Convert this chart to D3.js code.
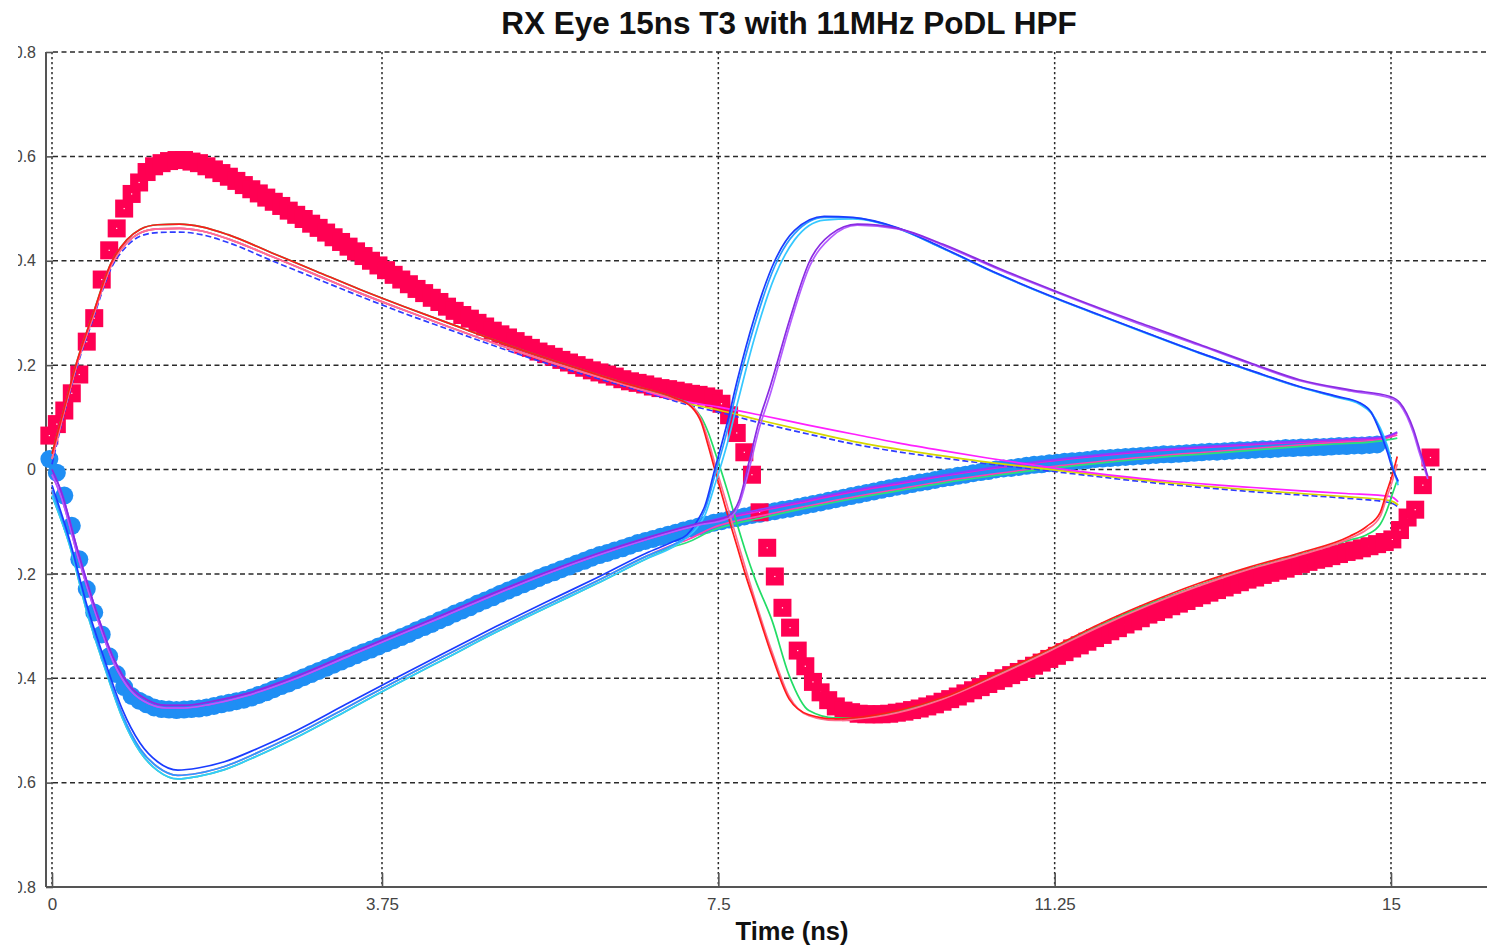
<!DOCTYPE html>
<html><head><meta charset="utf-8">
<script src="https://cdn.jsdelivr.net/npm/d3@7"></script>
<style>html,body{margin:0;padding:0;background:#fff;}svg{display:block;font-family:Arial,"Liberation Sans",sans-serif;}</style>
</head><body><svg id="chart" width="1489" height="945"></svg>
<script>
// ---------- DATA ----------
const titleText = "RX Eye 15ns T3 with 11MHz PoDL HPF";
const xLabelText = "Time (ns)";
const xTickVals = [0, 3.75, 7.5, 11.25, 15];
const xTickLabels = ["0", "3.75", "7.5", "11.25", "15"];
const yTickVals = [0.8, 0.6, 0.4, 0.2, 0, -0.2, -0.4, -0.6, -0.8];
const yTickLabels = ["0.8", "0.6", "0.4", "0.2", "0", "-0.2", "-0.4", "-0.6", "-0.8"];

// marker series sampled every markerStep ns
const markerStep = 0.085;
const redStart = -0.03;
const redV = [
0.065,0.087,0.113,0.146,0.182,0.245,0.29,0.364,0.42,0.462,
0.50,0.528,0.55,0.57,0.581,0.587,0.591,0.593,0.593,0.59,
0.587,0.581,0.575,0.568,0.561,0.553,0.545,0.537,0.529,0.521,
0.513,0.505,0.496,0.488,0.48,0.471,0.463,0.454,0.445,0.436,
0.427,0.418,0.409,0.40,0.391,0.382,0.373,0.364,0.355,0.346,
0.338,0.329,0.321,0.312,0.304,0.296,0.289,0.281,0.274,0.266,
0.259,0.253,0.246,0.239,0.233,0.226,0.221,0.216,0.21,0.205,
0.20,0.195,0.19,0.186,0.182,0.178,0.173,0.169,0.166,0.163,
0.159,0.156,0.154,0.151,0.148,0.145,0.143,0.14,0.136,0.126,
0.104,0.07,0.033,-0.01,-0.082,-0.15,-0.205,-0.265,-0.303,-0.347,
-0.377,-0.407,-0.427,-0.442,-0.454,-0.462,-0.465,-0.468,-0.469,-0.469,
-0.469,-0.468,-0.466,-0.464,-0.461,-0.458,-0.454,-0.45,-0.445,-0.44,
-0.435,-0.429,-0.423,-0.417,-0.411,-0.405,-0.4,-0.394,-0.388,-0.382,
-0.376,-0.37,-0.363,-0.357,-0.35,-0.343,-0.337,-0.33,-0.323,-0.317,
-0.31,-0.304,-0.297,-0.291,-0.285,-0.278,-0.273,-0.268,-0.262,-0.257,
-0.252,-0.246,-0.241,-0.236,-0.231,-0.226,-0.221,-0.216,-0.211,-0.207,
-0.202,-0.198,-0.194,-0.19,-0.185,-0.181,-0.177,-0.173,-0.17,-0.166,
-0.162,-0.158,-0.155,-0.151,-0.147,-0.143,-0.139,-0.134,-0.116,-0.092,
-0.077,-0.03,0.023];
const blueStart = -0.03;
const blueV = [
0.02,-0.006,-0.05,-0.108,-0.172,-0.229,-0.274,-0.316,-0.358,-0.392,
-0.417,-0.434,-0.443,-0.45,-0.456,-0.459,-0.46,-0.461,-0.46,-0.459,
-0.458,-0.456,-0.453,-0.45,-0.447,-0.444,-0.441,-0.437,-0.432,-0.427,
-0.421,-0.415,-0.41,-0.404,-0.398,-0.392,-0.386,-0.38,-0.374,-0.368,
-0.362,-0.356,-0.35,-0.345,-0.339,-0.333,-0.327,-0.321,-0.315,-0.308,
-0.302,-0.296,-0.289,-0.283,-0.276,-0.27,-0.264,-0.257,-0.251,-0.245,
-0.238,-0.232,-0.226,-0.22,-0.214,-0.208,-0.202,-0.197,-0.191,-0.186,
-0.18,-0.175,-0.169,-0.164,-0.16,-0.155,-0.151,-0.146,-0.141,-0.137,
-0.133,-0.129,-0.125,-0.121,-0.117,-0.113,-0.109,-0.106,-0.102,-0.099,
-0.096,-0.093,-0.09,-0.087,-0.085,-0.082,-0.08,-0.077,-0.075,-0.072,
-0.069,-0.066,-0.063,-0.06,-0.057,-0.054,-0.051,-0.048,-0.045,-0.042,
-0.039,-0.036,-0.033,-0.031,-0.028,-0.025,-0.023,-0.02,-0.017,-0.015,
-0.012,-0.01,-0.007,-0.005,-0.003,0.0,0.002,0.003,0.005,0.007,
0.009,0.01,0.012,0.013,0.015,0.016,0.017,0.018,0.02,0.021,
0.022,0.023,0.024,0.025,0.026,0.027,0.028,0.029,0.029,0.03,
0.031,0.032,0.033,0.034,0.034,0.035,0.036,0.037,0.037,0.038,
0.039,0.039,0.04,0.041,0.041,0.042,0.042,0.043,0.043,0.044,
0.045,0.045,0.046,0.046,0.047,0.048];

// thin eye traces: head segments (from t=0) and tail segments (after 7 ns)
const upT   = [0,0.12,0.28,0.46,0.67,0.85,1.0,1.2,1.45,1.7,2.0,2.5,3.0,3.5,4.0,4.5,5.0,5.5,6.0,6.5,7.0];
const upHi  = [0.03,0.105,0.205,0.295,0.395,0.44,0.46,0.469,0.47,0.465,0.45,0.415,0.38,0.345,0.312,0.28,0.248,0.218,0.19,0.163,0.138];
const upMid = [0.02,0.1,0.2,0.29,0.39,0.434,0.453,0.461,0.462,0.457,0.442,0.408,0.373,0.338,0.305,0.273,0.242,0.213,0.186,0.16,0.135];
const upLo  = [0.01,0.095,0.195,0.285,0.385,0.428,0.447,0.454,0.455,0.45,0.435,0.4,0.366,0.332,0.299,0.268,0.237,0.208,0.182,0.157,0.132];

const dropT     = [7.2,7.31,7.39,7.46,7.6,7.71,7.8,7.91,8.1,8.29,8.51,8.8,9.0,9.5,10.0,10.62,11.18,11.74,12.3,12.86,13.42,13.98,14.54,14.73,14.88,14.95,15.01,15.07];
const dropRed   = [0.12,0.09,0.044,0.0,-0.085,-0.148,-0.2,-0.258,-0.358,-0.44,-0.47,-0.478,-0.476,-0.462,-0.437,-0.39,-0.345,-0.297,-0.255,-0.218,-0.187,-0.16,-0.128,-0.109,-0.082,-0.044,-0.013,0.025];
const dropPink  = [0.122,0.095,0.055,0.012,-0.07,-0.135,-0.188,-0.25,-0.35,-0.435,-0.472,-0.481,-0.479,-0.466,-0.44,-0.394,-0.349,-0.302,-0.26,-0.223,-0.191,-0.164,-0.132,-0.115,-0.09,-0.055,-0.025,0.01];
const dropGreen = [0.122,0.1,0.07,0.035,-0.04,-0.105,-0.155,-0.21,-0.29,-0.395,-0.462,-0.476,-0.476,-0.463,-0.438,-0.392,-0.347,-0.3,-0.258,-0.222,-0.19,-0.163,-0.135,-0.125,-0.105,-0.08,-0.05,-0.02];

const contT   = [7.2,7.5,8.0,8.5,9.0,9.5,10.0,10.5,11.0,11.5,12.0,12.5,13.0,13.5,14.0,14.5,15.0,15.08];
const contMag = [0.128,0.12,0.103,0.085,0.068,0.051,0.036,0.022,0.009,-0.003,-0.013,-0.022,-0.029,-0.035,-0.041,-0.046,-0.052,-0.062];
const contYel = [0.125,0.114,0.093,0.073,0.054,0.039,0.026,0.014,0.004,-0.006,-0.016,-0.025,-0.033,-0.04,-0.046,-0.052,-0.06,-0.068];
const contBlu = [0.122,0.11,0.088,0.068,0.049,0.034,0.022,0.011,0.001,-0.009,-0.019,-0.028,-0.036,-0.043,-0.049,-0.055,-0.064,-0.072];

const loT = [0,0.2,0.4,0.6,0.8,1.0,1.2,1.43,1.66,1.96,2.33,2.78,3.34,3.9,4.46,5.02,5.58,6.14,6.7,7.0];
const loA = [-0.03,-0.135,-0.262,-0.366,-0.46,-0.524,-0.56,-0.576,-0.572,-0.56,-0.535,-0.5,-0.45,-0.4,-0.35,-0.301,-0.254,-0.208,-0.16,-0.138];
const loB = [-0.04,-0.14,-0.27,-0.375,-0.47,-0.535,-0.57,-0.586,-0.582,-0.569,-0.543,-0.507,-0.457,-0.406,-0.356,-0.307,-0.26,-0.214,-0.166,-0.144];
const loC = [-0.05,-0.145,-0.275,-0.38,-0.476,-0.541,-0.577,-0.593,-0.588,-0.575,-0.549,-0.513,-0.463,-0.412,-0.362,-0.312,-0.265,-0.219,-0.171,-0.148];

const riseT     = [7.15,7.26,7.35,7.46,7.6,7.71,7.9,8.13,8.35,8.68,9.0,9.5,10.0,10.62,11.2,11.74,12.3,12.86,13.42,13.98,14.4,14.65,14.78,14.88,14.96,15.02,15.08];
const riseBlue  = [-0.125,-0.1,-0.07,0.0,0.09,0.17,0.29,0.4,0.458,0.485,0.483,0.463,0.425,0.375,0.333,0.297,0.26,0.224,0.191,0.159,0.14,0.128,0.109,0.071,0.033,0.0,-0.022];
const riseBlue2 = [-0.128,-0.105,-0.078,-0.012,0.075,0.155,0.275,0.39,0.452,0.483,0.482,0.462,0.424,0.374,0.332,0.296,0.26,0.224,0.19,0.158,0.139,0.127,0.11,0.075,0.04,0.005,-0.025];
const riseCyan  = [-0.13,-0.112,-0.088,-0.03,0.05,0.125,0.25,0.37,0.44,0.478,0.48,0.462,0.424,0.374,0.332,0.296,0.259,0.223,0.19,0.158,0.138,0.125,0.108,0.08,0.045,0.005,-0.03];

const lcT     = [7.15,7.43,8.0,8.5,9.0,9.5,10.0,10.6,11.2,11.8,12.4,13.0,13.6,14.2,14.9,15.07];
const lcPink  = [-0.135,-0.112,-0.088,-0.07,-0.053,-0.038,-0.023,-0.008,0.005,0.016,0.026,0.034,0.042,0.05,0.058,0.066];
const lcGreen = [-0.14,-0.117,-0.092,-0.073,-0.056,-0.041,-0.026,-0.011,0.002,0.013,0.023,0.031,0.039,0.047,0.055,0.06];

const bT   = [0,0.1,0.3,0.5,0.7,0.9,1.1,1.3,1.5,1.8,2.2,2.78,3.34,3.9,4.46,5.02,5.58,6.14,6.7,7.26];
const bPur = [0.0,-0.04,-0.16,-0.27,-0.362,-0.418,-0.443,-0.452,-0.452,-0.445,-0.43,-0.396,-0.356,-0.316,-0.276,-0.235,-0.197,-0.162,-0.131,-0.104];
const bMag = [-0.01,-0.05,-0.17,-0.278,-0.37,-0.425,-0.449,-0.457,-0.457,-0.45,-0.434,-0.4,-0.36,-0.32,-0.28,-0.239,-0.2,-0.165,-0.134,-0.107];

const bcT   = [7.26,7.6,8.3,9.0,9.5,10.0,10.6,11.2,11.8,12.4,13.0,13.6,14.2,14.9,15.07];
const bcPur = [-0.104,-0.09,-0.065,-0.04,-0.025,-0.011,0.005,0.018,0.029,0.038,0.045,0.051,0.056,0.062,0.072];
const bcMag = [-0.107,-0.093,-0.068,-0.043,-0.028,-0.013,0.003,0.016,0.027,0.036,0.043,0.049,0.054,0.06,0.07];

const brT   = [7.26,7.6,7.73,7.85,7.95,8.08,8.3,8.52,8.75,9.05,9.5,10.0,10.62,11.2,11.74,12.3,12.86,13.42,13.98,14.56,14.99,15.1,15.25,15.32,15.38,15.41];
const brPur = [-0.104,-0.09,-0.06,0.02,0.09,0.16,0.29,0.4,0.45,0.47,0.462,0.432,0.386,0.346,0.31,0.275,0.24,0.205,0.172,0.152,0.14,0.128,0.077,0.038,0.004,-0.013];
const brVio = [-0.107,-0.095,-0.068,0.005,0.075,0.145,0.278,0.39,0.444,0.468,0.461,0.43,0.384,0.344,0.308,0.272,0.238,0.203,0.17,0.15,0.137,0.124,0.07,0.03,-0.002,-0.018];

// ---------- CHART ----------
const svg = d3.select("#chart");
const x = d3.scaleLinear().domain([0, 3.75, 15]).range([52, 382, 1391]);
const y = d3.scaleLinear().domain([-0.8, 0.8]).range([887, 52]);
const axisX0 = 46, plotRight = 1487;

// grid
svg.append("g").selectAll("line").data(yTickVals.filter(v => v > -0.8)).join("line")
  .attr("x1", x(0) + 1).attr("x2", plotRight).attr("y1", d => y(d)).attr("y2", d => y(d))
  .attr("stroke", "#2a2a2a").attr("stroke-width", 1.5).attr("stroke-dasharray", "5,3.5");
svg.append("g").selectAll("line").data(xTickVals).join("line")
  .attr("x1", d => x(d)).attr("x2", d => x(d)).attr("y1", y(0.8)).attr("y2", y(-0.8))
  .attr("stroke", "#2a2a2a").attr("stroke-width", 1.5).attr("stroke-dasharray", "2.2,2.8");

// axes
const xAxis = d3.axisBottom(x).tickValues(xTickVals).tickFormat((d, i) => xTickLabels[i])
  .tickSizeInner(-14).tickSizeOuter(0).tickPadding(11);
const gx = svg.append("g").attr("transform", `translate(0,${y(-0.8)})`).call(xAxis);
gx.select(".domain").remove();
gx.selectAll(".tick line").attr("stroke", "#555").attr("stroke-width", 1.6);
gx.selectAll(".tick text").attr("font-size", 17).attr("fill", "#444").attr("font-family", "Arial, 'Liberation Sans', sans-serif");

const clip = svg.append("defs").append("clipPath").attr("id", "yclip");
clip.append("rect").attr("x", 18 - axisX0).attr("y", 0).attr("width", 60).attr("height", 945);
const yAxis = d3.axisLeft(y).tickValues(yTickVals).tickFormat((d, i) => yTickLabels[i])
  .tickSizeInner(-7).tickSizeOuter(0).tickPadding(10);
const gy = svg.append("g").attr("transform", `translate(${axisX0},0)`).attr("clip-path", "url(#yclip)").call(yAxis);
gy.select(".domain").remove();
gy.selectAll(".tick line").attr("stroke", "#555").attr("stroke-width", 1.6);
gy.selectAll(".tick text").attr("font-size", 16).attr("fill", "#444").attr("font-family", "Arial, 'Liberation Sans', sans-serif");

svg.append("line").attr("x1", axisX0).attr("x2", axisX0).attr("y1", y(0.8)).attr("y2", y(-0.8))
  .attr("stroke", "#555").attr("stroke-width", 2);
svg.append("line").attr("x1", axisX0).attr("x2", plotRight).attr("y1", y(-0.8)).attr("y2", y(-0.8))
  .attr("stroke", "#555").attr("stroke-width", 2);

// marker series
svg.append("g").selectAll("circle").data(blueV).join("circle")
  .attr("cx", (d, i) => x(blueStart + i * markerStep)).attr("cy", d => y(d)).attr("r", 9)
  .attr("fill", "#1f8ef4");
svg.append("g").selectAll("rect").data(redV).join("rect")
  .attr("x", (d, i) => x(redStart + i * markerStep) - 4.8).attr("y", d => y(d) - 4.8)
  .attr("width", 9.6).attr("height", 9.6)
  .attr("fill", "#fff").attr("stroke", "#ff0052").attr("stroke-width", 8.4);

// thin traces
function trace(ht, hv, tt, tv) {
  const pts = [];
  ht.forEach((t, i) => { if (t < tt[0]) pts.push([t, hv[i]]); });
  tt.forEach((t, i) => pts.push([t, tv[i]]));
  return pts;
}
const traces = [
  { pts: trace(loT, loB, lcT, lcPink), color: "#ff3fb4" },
  { pts: trace(loT, loC, lcT, lcGreen), color: "#2fe07a" },
  { pts: trace(bT, bMag, bcT, bcMag), color: "#e81fd8" },
  { pts: trace(bT, bPur, bcT, bcPur), color: "#8c3cff" },
  { pts: trace(upT, upLo, contT, contBlu), color: "#2f3cff", dash: "6,3" },
  { pts: trace(upT, upMid, contT, contYel), color: "#d6d600" },
  { pts: trace(upT, upMid, contT, contMag), color: "#ff20ff" },
  { pts: trace(upT, upHi, dropT, dropGreen), color: "#22dd66" },
  { pts: trace(upT, upMid, dropT, dropPink), color: "#ff6f8f" },
  { pts: trace(upT, upHi, dropT, dropRed), color: "#ff1a1a" },
  { pts: trace(loT, loC, riseT, riseCyan), color: "#35c8ff" },
  { pts: trace(loT, loB, riseT, riseBlue2), color: "#2a9cff" },
  { pts: trace(loT, loA, riseT, riseBlue), color: "#1a3cff" },
  { pts: trace(bT, bMag, brT, brVio), color: "#b45cff" },
  { pts: trace(bT, bPur, brT, brPur), color: "#8a2be2" }
];
const line = d3.line().x(d => x(d[0])).y(d => y(d[1])).curve(d3.curveMonotoneX);
svg.append("g").selectAll("path").data(traces).join("path")
  .attr("d", d => line(d.pts)).attr("fill", "none")
  .attr("stroke", d => d.color).attr("stroke-width", 1.7)
  .attr("stroke-dasharray", d => d.dash || null);

// titles
svg.append("text").attr("x", 789).attr("y", 34).attr("text-anchor", "middle")
  .attr("font-size", 31.5).attr("font-weight", "bold").attr("fill", "#111").text(titleText);
svg.append("text").attr("x", 792).attr("y", 940).attr("text-anchor", "middle")
  .attr("font-size", 25.5).attr("font-weight", "bold").attr("fill", "#111").text(xLabelText);
</script></body></html>
